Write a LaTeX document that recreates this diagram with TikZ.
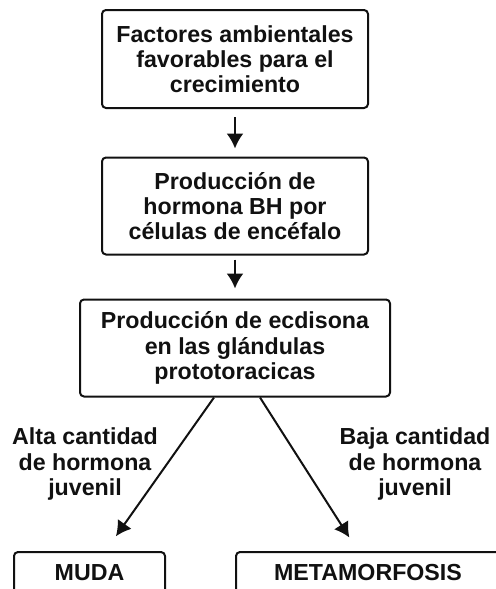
\documentclass[tikz,border=0pt]{standalone}
\usepackage{fontspec}
\setmainfont{Liberation Sans}
\usetikzlibrary{positioning, calc, arrows.meta}
\definecolor{Tinta}{HTML}{111111}
\tikzset{
    caja/.style={rectangle, rounded corners=2pt, draw=Tinta, line width=1pt, text=Tinta, align=center, font=\fontsize{11.6}{12.6}\selectfont\bfseries, inner sep=0pt},
    etiqueta/.style={align=center, text=Tinta, font=\fontsize{11.6}{12.6}\selectfont\bfseries, inner sep=0pt},
    flecha/.style={-{Latex[length=7.5pt,width=8.5pt]}, line width=1pt, color=Tinta},
}

\begin{document}
\begin{tikzpicture}[x=0.5pt, y=-0.5pt]
                \useasboundingbox (0,0) rectangle (496,589);

                % Cajas del flujo principal
                \node[caja, minimum width=133pt, minimum height=49pt] (factores) at (235,59) {Factores ambientales\\favorables para el\\crecimiento};
                \node[caja, minimum width=133pt, minimum height=48.5pt] (hormona) at (235,206) {Producción de\\hormona BH por\\células de encéfalo};
                \node[caja, minimum width=155pt, minimum height=48.5pt] (ecdisona) at (235,348) {Producción de ecdisona\\en las glándulas\\prototoracicas};

                % Resultados
                \node[caja, minimum width=75.5pt, minimum height=21pt] (muda) at (89.5,573) {MUDA};
                \node[caja, minimum width=132pt, minimum height=21pt] (metamorfosis) at (368,573) {METAMORFOSIS};

                % Flechas verticales
                \draw[flecha, shorten <=4pt, shorten >=4pt] (factores) -- (hormona);
                \draw[flecha, shorten <=2pt, shorten >=5pt] (hormona) -- (ecdisona);

                % Flechas diagonales
                \coordinate (salidaA) at ([xshift=-10.5pt]ecdisona.south);
                \coordinate (salidaB) at ([xshift=12.5pt]ecdisona.south);
                \draw[flecha, shorten >=9pt] (salidaA) -- ([xshift=8pt]muda.north);
                \draw[flecha, shorten >=8pt] (salidaB) -- ([xshift=-5pt]metamorfosis.north);

                % Textos de las ramas
                \node[etiqueta] (alta) at (85,464) {Alta cantidad\\de hormona\\juvenil};
                \node[etiqueta] (baja) at (415,464) {Baja cantidad\\de hormona\\juvenil};
            \end{tikzpicture}
\end{document}
